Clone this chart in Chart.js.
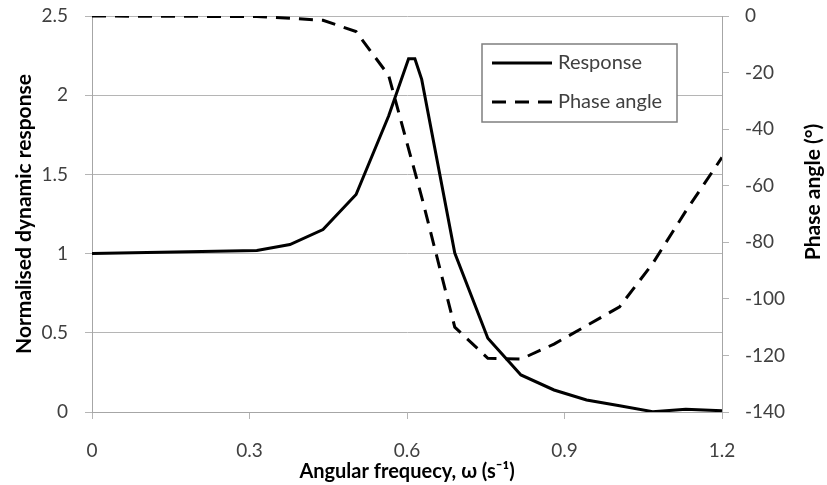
<!DOCTYPE html>
<html>
<head>
<meta charset="utf-8">
<script src="https://cdn.jsdelivr.net/npm/chart.js@4/dist/chart.umd.min.js"></script>
<style>
  body { margin: 0; background: #fff; }
  canvas { display: block; }
</style>
</head>
<body>
<canvas id="grafico" width="827" height="485"></canvas>
<script>
// angular frequency (s^-1) and normalised response
var freqResponse = [0, 0.314, 0.377, 0.440, 0.503, 0.565, 0.603, 0.615, 0.628, 0.691, 0.754, 0.817, 0.880, 0.942, 1.005, 1.068, 1.131, 1.2];
var response = [1.0, 1.02, 1.057, 1.152, 1.373, 1.869, 2.23, 2.23, 2.10, 1.004, 0.466, 0.234, 0.139, 0.076, 0.04, 0.002, 0.017, 0.008];

// phase angle (degrees)
var freqPhase = [0, 0.314, 0.377, 0.440, 0.503, 0.565, 0.628, 0.691, 0.754, 0.817, 0.880, 0.942, 1.005, 1.068, 1.131, 1.2];
var phase = [0, -0.2, -0.8, -1.5, -5.5, -21, -64, -110, -121, -121.3, -116, -109.5, -102.8, -87.5, -69, -50];

var seriesLabels = ['Response', 'Phase angle'];
var xTitle = 'Angular frequecy, \u03c9 (s\u207b\u00b9)';
var yLeftTitle = 'Normalised dynamic response';
var yRightTitle = 'Phase angle (\u00b0)';

var gridColor = '#b5b5b5';
var textColor = '#404040';
var dash = [14, 9];

Chart.defaults.font.family = 'Lato';
Chart.defaults.font.size = 19;
Chart.defaults.color = textColor;

function pares(xs, ys) {
    var out = [];
    for (var i = 0; i < xs.length; i++) {
        out.push({x: xs[i], y: ys[i]});
    }
    return out;
}

function fmt(v) {
    return String(Number(v.toFixed(2)));
}

// legend box and right-hand title, drawn the way the original has them
var extras = {
    id: 'extras',
    afterDraw: function (chart) {
        var ctx = chart.ctx;
        ctx.save();
        ctx.fillStyle = '#fff';
        ctx.fillRect(482, 44, 195, 78);
        ctx.strokeStyle = '#7f7f7f';
        ctx.lineWidth = 1.5;
        ctx.strokeRect(482, 44, 195, 78);

        var rows = [63, 102];
        for (var i = 0; i < 2; i++) {
            var ds = chart.data.datasets[i];
            ctx.beginPath();
            ctx.strokeStyle = ds.borderColor;
            ctx.lineWidth = ds.borderWidth;
            ctx.setLineDash(ds.borderDash || []);
            ctx.moveTo(492, rows[i]);
            ctx.lineTo(552, rows[i]);
            ctx.stroke();
            ctx.setLineDash([]);
            ctx.fillStyle = textColor;
            ctx.font = '20px Lato';
            ctx.textBaseline = 'middle';
            ctx.textAlign = 'left';
            ctx.fillText(ds.label, 558, rows[i]);
        }

        ctx.translate(813, 192);
        ctx.rotate(-Math.PI / 2);
        ctx.fillStyle = '#000';
        ctx.font = 'bold 21px Lato';
        ctx.textAlign = 'center';
        ctx.textBaseline = 'middle';
        ctx.fillText(yRightTitle, 0, 0);
        ctx.restore();
    }
};

var ctx = document.getElementById('grafico');
var myChart = new Chart(ctx, {
    type: 'line',
    data: {
        datasets: [{
            label: seriesLabels[0],
            data: pares(freqResponse, response),
            yAxisID: 'y',
            borderColor: '#000',
            borderWidth: 3,
            pointRadius: 0,
            tension: 0,
            fill: false
        }, {
            label: seriesLabels[1],
            data: pares(freqPhase, phase),
            yAxisID: 'y2',
            borderColor: '#000',
            borderWidth: 3,
            borderDash: dash,
            pointRadius: 0,
            tension: 0,
            fill: false
        }]
    },
    options: {
        responsive: false,
        animation: false,
        devicePixelRatio: 1,
        layout: {padding: {top: 16, left: 0, right: 0, bottom: 0}},
        plugins: {
            legend: {display: false},
            tooltip: {enabled: false}
        },
        scales: {
            x: {
                type: 'linear',
                min: 0,
                max: 1.2,
                afterFit: function (s) { s.height = 73; },
                grid: {drawOnChartArea: false, color: gridColor, tickLength: 7},
                border: {color: '#a6a6a6'},
                ticks: {stepSize: 0.3, padding: 20, maxRotation: 0, callback: fmt},
                title: {
                    display: true,
                    text: xTitle,
                    color: '#000',
                    font: {size: 20, weight: 'bold'},
                    padding: {top: 0, bottom: 1}
                }
            },
            y: {
                position: 'left',
                min: 0,
                max: 2.5,
                afterFit: function (s) { s.width = 92; s.paddingTop = 0; s.paddingBottom = 0; },
                grid: {color: gridColor, tickLength: 7},
                border: {color: '#a6a6a6'},
                ticks: {stepSize: 0.5, padding: 17, callback: fmt},
                title: {
                    display: true,
                    text: yLeftTitle,
                    color: '#000',
                    font: {size: 21, weight: 'bold'},
                    padding: {top: 12, bottom: 0}
                }
            },
            y2: {
                position: 'right',
                min: -140,
                max: 0,
                afterFit: function (s) { s.width = 105; s.paddingTop = 0; s.paddingBottom = 0; },
                grid: {drawOnChartArea: false, color: gridColor, tickLength: 7},
                border: {color: '#a6a6a6'},
                ticks: {stepSize: 20, padding: 16}
            }
        }
    },
    plugins: [extras]
});
</script>
</body>
</html>
